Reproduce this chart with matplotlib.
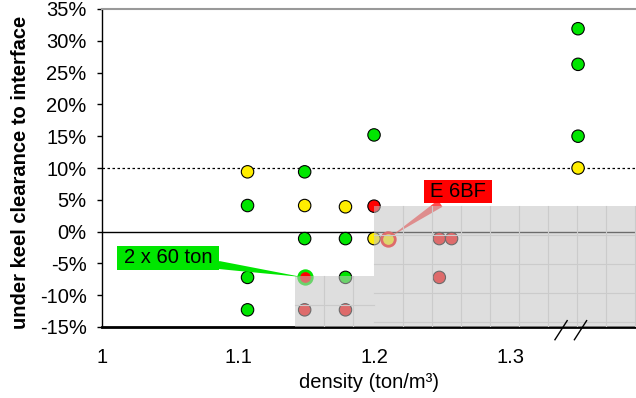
"""Under keel clearance vs density scatter"""

import numpy as np
import matplotlib
matplotlib.use("Agg")
import matplotlib.pyplot as plt
from matplotlib.patches import Rectangle
from matplotlib.ticker import FuncFormatter

plt.rcParams['font.family'] = ['Liberation Sans', 'DejaVu Sans']
plt.rcParams['font.size'] = 14.5

GREEN = '#00e600'
YELLOW = '#ffee00'
RED = '#ff0000'

# measurements (density in ton/m3, clearance in %)
density = [1.107, 1.107, 1.107, 1.107,
           1.149, 1.149, 1.149, 1.149, 1.149,
           1.179, 1.179, 1.179, 1.179,
           1.200, 1.200, 1.200,
           1.210,
           1.248, 1.248,
           1.257,
           1.350, 1.350, 1.350, 1.350]
clearance = [9.4, 4.1, -7.2, -12.3,
             9.4, 4.1, -1.1, -7.2, -12.3,
             3.9, -1.1, -7.2, -12.3,
             15.2, 4.0, -1.1,
             -1.1,
             -1.1, -7.2,
             -1.1,
             31.9, 26.3, 15.0, 10.0]
status = ['y', 'g', 'g', 'g',
          'g', 'y', 'g', 'r', 'r',
          'y', 'g', 'g', 'r',
          'g', 'r', 'y',
          'y',
          'r', 'r',
          'r',
          'g', 'g', 'g', 'y']
color_map = {'g': GREEN, 'y': YELLOW, 'r': RED}

# shaded (not allowed) zones: (x0, x1, y0, y1)
zones = [(1.142, 1.200, -15, -7.0),
         (1.200, 1.3926, -15, 4.1)]

# highlighted cases: (label, index, colour, text position)
highlights = [("\u20092 x 60 ton\u2009", 7, GREEN, (1.0485, -4.1)),
              ("\u2009E 6BF\u2009", 16, RED, (1.2618, 6.3))]

yticks = list(range(-15, 40, 5))
xticks = [1.0, 1.1, 1.2, 1.3]
xticklabels = ['1', '1.1', '1.2', '1.3']

fig = plt.figure(figsize=(6.36, 3.98), dpi=100)
ax = fig.add_axes([102 / 636, 1 - 327 / 398, 534 / 636, 318 / 398])
ax.set_xlim(1.0, 1.3926)
ax.set_ylim(-15, 35)

ax.axhline(0, color='black', lw=1.0, zorder=2)
ax.axhline(10, color='black', lw=0.9, ls=(0, (2, 2)), zorder=2)

ax.scatter(density, clearance, s=80, c=[color_map[k] for k in status],
           edgecolors='black', linewidths=0.8, zorder=3)

# highlighted points get a coloured ring, drawn under the gray zones
for label, i, col, pos in highlights:
    ax.scatter([density[i]], [clearance[i]], s=95, c=[color_map[status[i]]],
               edgecolors=col, linewidths=2.0, zorder=3.2)

# gray zones with light cell grid
cell_dx, cell_dy = 0.02132, 4.56
for x0, x1, y0, y1 in zones:
    ax.add_patch(Rectangle((x0, y0), x1 - x0, y1 - y0, facecolor='#c4c4c4',
                           edgecolor='none', alpha=0.55, zorder=4))
    for gx in np.arange(x0 + cell_dx, x1, cell_dx):
        ax.plot([gx, gx], [y0, y1], color='#cbcbcb', lw=0.8, zorder=4.2)
    for gy in np.arange(y1 - cell_dy, y0, -cell_dy):
        ax.plot([x0, x1], [gy, gy], color='#cbcbcb', lw=0.8, zorder=4.2)

for label, i, col, pos in highlights:
    ax.annotate(label, xy=(density[i], clearance[i]), xytext=pos,
                ha='center', va='center', fontsize=14.5,
                zorder=5 if col == GREEN else 3.5,
                bbox=dict(boxstyle='square,pad=0.12', fc=col, ec='none'),
                arrowprops=dict(arrowstyle='wedge,tail_width=0.4',
                                fc=col, ec='none', alpha=0.7 if col == RED else 1,
                                shrinkA=0, shrinkB=2))

# axis break marks
for bx in (1.3375, 1.3518):
    ax.plot([bx - 0.0045, bx + 0.0045], [-17.0, -14.0], color='black', lw=1.0,
            clip_on=False, zorder=6)

ax.spines['right'].set_visible(False)
ax.spines['top'].set_color('#999999')
ax.spines['top'].set_linewidth(1.5)
ax.spines['bottom'].set_linewidth(2.0)
ax.spines['left'].set_linewidth(1.0)

ax.set_yticks(yticks)
ax.yaxis.set_major_formatter(FuncFormatter(lambda v, p: f"{v:.0f}%"))
ax.set_xticks(xticks)
ax.set_xticklabels(xticklabels)
ax.tick_params(axis='x', length=0, pad=15)
ax.tick_params(axis='y', length=3.6, width=1, pad=7.5)

ax.set_xlabel('density (ton/m\u00b3)')
ax.xaxis.set_label_coords(0.5, -0.145)
ax.xaxis.label.set_va('top')
ax.set_ylabel('under keel clearance to interface', fontweight='bold')
ax.yaxis.set_label_coords(-0.134, 0.485)

fig.savefig('out.png', dpi=100)
